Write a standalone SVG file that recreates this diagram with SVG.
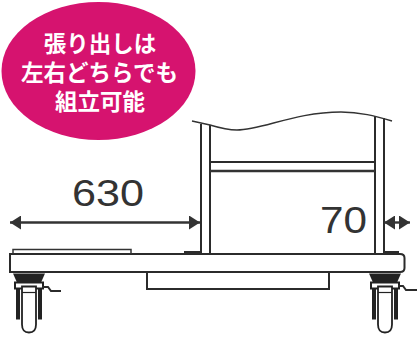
<svg xmlns="http://www.w3.org/2000/svg" width="418" height="338" viewBox="0 0 418 338">
<defs>
<marker id="ah" markerUnits="userSpaceOnUse" markerWidth="12" markerHeight="14" refX="11" refY="7" orient="auto-start-reverse"><path d="M0 0L11 7L0 14Z" fill="#333"/></marker>
<g id="caster">
<path d="M-16 0H16L12 9H-12Z" fill="#222"/>
<path d="M-14 9H14V15H-14Z" fill="#fff" stroke="#222" stroke-width="2"/>
<path d="M-11 15V44H-9M11 15V44H9" fill="none" stroke="#222" stroke-width="4"/>
<path d="M-7 13H7V51Q7 59 0 59Q-7 59 -7 51Z" fill="#fff" stroke="#222" stroke-width="1.8"/>
<path d="M-7 19H7" fill="none" stroke="#222" stroke-width="1.2"/>
</g>
</defs>
<style>
.l{fill:none;stroke:#333;stroke-width:1.5}
.h{fill:none;stroke:#2b2b2b;stroke-width:2}
.d{fill:none;stroke:#333;stroke-width:2.4}
.n{font-family:"Liberation Sans",Arial,sans-serif;font-size:36px;fill:#333}
.j{font-family:"Noto Sans CJK JP",sans-serif;font-size:22.5px;font-weight:700;fill:#fff;text-anchor:middle}
</style>
<rect width="418" height="338" fill="#fff"/>
<g id="badge">
<ellipse cx="98.500" cy="71" rx="97" ry="69" fill="#d6136f"/>
<text class="j" x="100" y="52">張り出しは</text>
<text class="j" x="99.500" y="81">左右どちらでも</text>
<text class="j" x="100" y="110">組立可能</text>
</g>
<g id="cart">
<path class="h" d="M201 124V254M210 125V254"/>
<path class="h" d="M375 116V254M384 118V254"/>
<path class="l" d="M192 121L210 125C220 128 228 130 237 130C262 130 295 112 341 112C360 112 375 116 392 121"/>
<path class="h" d="M210 162H375"/>
<path class="d" d="M210 171H375"/>
<path class="h" d="M10 254H400Q404.500 254 404.500 258V268Q404.500 272 400 272H10V254Z"/>
<path class="l" d="M13 254V249.500H131V254"/>
<path class="h" d="M185 254V252H201"/>
<path class="h" d="M384 253V252H398V254"/>
<path class="h" d="M147 272V289H329V272"/>
</g>
<g id="caster-left">
<use href="#caster" x="29" y="273.500"/>
<path class="h" d="M42 287H48L51 291H61"/>
</g>
<g id="caster-right">
<use href="#caster" x="385" y="273.500"/>
<path class="h" d="M398 286H403L406 290H417"/>
</g>
<g id="connectors">
<path class="d" d="M10 222.500H200" marker-start="url(#ah)" marker-end="url(#ah)"/>
<path class="d" d="M384 222.500H410" marker-start="url(#ah)" marker-end="url(#ah)"/>
</g>
<g id="labels">
<text class="n" x="72" y="206" textLength="72" lengthAdjust="spacingAndGlyphs">630</text>
<text class="n" x="320" y="233" textLength="47" lengthAdjust="spacingAndGlyphs">70</text>
</g>
</svg>
